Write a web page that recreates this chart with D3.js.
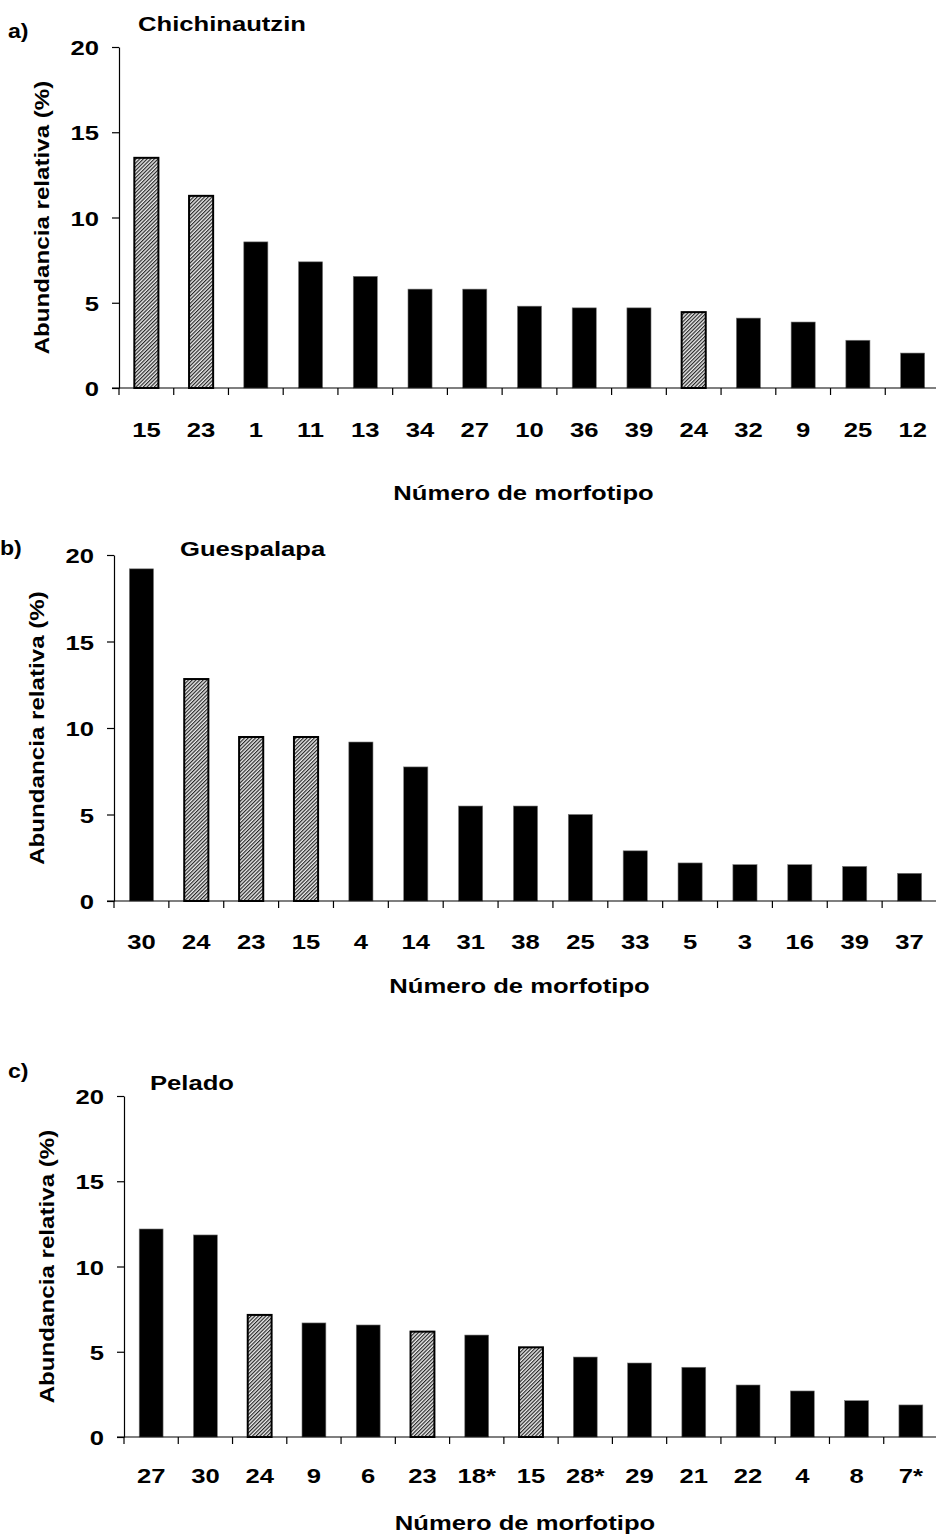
<!DOCTYPE html>
<html>
<head>
<meta charset="utf-8">
<script src="https://cdn.jsdelivr.net/npm/d3@7"></script>
<style>
  html, body { margin: 0; padding: 0; background: #fff; }
  svg text { font-family: "Liberation Sans", Arial, sans-serif; font-weight: bold; fill: #000; }
</style>
</head>
<body>
<svg id="chart" width="936" height="1537"></svg>
<script>
// Relative abundance (%) of morphotypes at each site
const chichiCats    = ["15", "23", "1", "11", "13", "34", "27", "10", "36", "39", "24", "32", "9", "25", "12"];
const chichiValues  = [13.5, 11.27, 8.57, 7.4, 6.55, 5.8, 5.8, 4.8, 4.7, 4.7, 4.45, 4.1, 3.87, 2.8, 2.05];
const chichiHatched = ["15", "23", "24"];

const guesCats    = ["30", "24", "23", "15", "4", "14", "31", "38", "25", "33", "5", "3", "16", "39", "37"];
const guesValues  = [19.2, 12.83, 9.48, 9.48, 9.19, 7.75, 5.49, 5.49, 5.0, 2.9, 2.2, 2.1, 2.1, 2.0, 1.6];
const guesHatched = ["24", "23", "15"];

const peladoCats    = ["27", "30", "24", "9", "6", "23", "18*", "15", "28*", "29", "21", "22", "4", "8", "7*"];
const peladoValues  = [12.2, 11.85, 7.16, 6.69, 6.57, 6.18, 5.98, 5.26, 4.69, 4.34, 4.09, 3.05, 2.7, 2.13, 1.88];
const peladoHatched = ["24", "23", "15"];

const yTicks = [0, 5, 10, 15, 20];
const yTitle = "Abundancia relativa (%)";
const xTitle = "Número de morfotipo";

const svg = d3.select("#chart");

// Widen glyphs horizontally along the text direction
function stretch(sel, k) {
  sel.each(function () {
    const len = this.getComputedTextLength();
    d3.select(this).attr("textLength", len * k).attr("lengthAdjust", "spacingAndGlyphs");
  });
}

// Fine diagonal hatching used for the shaded bars
const defs = svg.append("defs");
const pat = defs.append("pattern")
  .attr("id", "hatch")
  .attr("patternUnits", "userSpaceOnUse")
  .attr("width", 2.6).attr("height", 2.6)
  .attr("patternTransform", "rotate(45)");
pat.append("rect").attr("width", 2.6).attr("height", 2.6).attr("fill", "#ececec");
pat.append("line").attr("x1", 0.6).attr("y1", 0).attr("x2", 0.6).attr("y2", 2.6)
  .attr("stroke", "#1a1a1a").attr("stroke-width", 1.1);

const panels = [
  { tag: "a)", title: "Chichinautzin", cats: chichiCats, values: chichiValues, hatched: chichiHatched,
    x0: 119, x1: 940, yTop: 47, yBottom: 388, tagX: 8, tagY: 30, titleX: 138, titleY: 23,
    labelOff: 41, xTitleY: 492 },
  { tag: "b)", title: "Guespalapa", cats: guesCats, values: guesValues, hatched: guesHatched,
    x0: 114, x1: 937, yTop: 555, yBottom: 901, tagX: 0, tagY: 547, titleX: 180, titleY: 548,
    labelOff: 40, xTitleY: 985 },
  { tag: "c)", title: "Pelado", cats: peladoCats, values: peladoValues, hatched: peladoHatched,
    x0: 124, x1: 938, yTop: 1096, yBottom: 1437, tagX: 8, tagY: 1070, titleX: 150, titleY: 1082,
    labelOff: 38, xTitleY: 1522 }
];

const FS = "21px";
const K = 1.22;

panels.forEach(p => {
  const g = svg.append("g");

  const x = d3.scaleBand().domain(p.cats).range([p.x0, p.x1])
    .paddingInner(0.56).paddingOuter(0.28);
  const y = d3.scaleLinear().domain([0, 20]).range([p.yBottom, p.yTop]);

  // bars
  g.selectAll("rect.bar").data(p.cats.map((c, i) => ({ c, v: p.values[i] })))
    .join("rect")
    .attr("class", "bar")
    .attr("x", d => x(d.c))
    .attr("width", x.bandwidth())
    .attr("y", d => y(d.v))
    .attr("height", d => y(0) - y(d.v))
    .attr("fill", d => p.hatched.includes(d.c) ? "url(#hatch)" : "#000")
    .attr("stroke", d => p.hatched.includes(d.c) ? "#000" : "#777")
    .attr("stroke-width", d => p.hatched.includes(d.c) ? 2 : 0.6);

  // y axis
  const yAxis = g.append("g")
    .attr("transform", `translate(${p.x0},0)`)
    .call(d3.axisLeft(y).tickValues(yTicks).tickSize(7).tickSizeOuter(0).tickPadding(13));
  yAxis.select(".domain").attr("stroke", "#000").attr("stroke-width", 1.2);
  yAxis.selectAll(".tick line").attr("stroke", "#000").attr("stroke-width", 1.2);
  yAxis.selectAll(".tick text")
    .style("font-size", FS)
    .attr("dy", "0.36em")
    .call(stretch, K);

  // x axis baseline and category boundary ticks
  const step = x.step();
  g.append("line")
    .attr("x1", p.x0 - 7).attr("x2", p.x1 + 10)
    .attr("y1", y(0)).attr("y2", y(0))
    .attr("stroke", "#000").attr("stroke-width", 1.2);
  const bounds = d3.range(p.cats.length + 1).map(i => p.x0 + i * step);
  g.selectAll("line.xtick").data(bounds).join("line")
    .attr("class", "xtick")
    .attr("x1", d => d).attr("x2", d => d)
    .attr("y1", y(0)).attr("y2", y(0) + 7)
    .attr("stroke", "#000").attr("stroke-width", 1.2);

  const xAxis = g.append("g")
    .attr("transform", `translate(0,${y(0)})`)
    .call(d3.axisBottom(x).tickSize(0).tickPadding(p.labelOff));
  xAxis.select(".domain").remove();
  xAxis.selectAll(".tick text")
    .style("font-size", FS)
    .attr("dy", "0.36em")
    .call(stretch, K);

  // titles
  g.append("text")
    .attr("x", (p.x0 + p.x1) / 2 - 6).attr("y", p.xTitleY)
    .attr("text-anchor", "middle").attr("dy", "0.36em")
    .style("font-size", FS)
    .text(xTitle)
    .call(stretch, K);

  g.append("text")
    .attr("transform", `translate(${p.x0 - 78},${(p.yTop + p.yBottom) / 2}) rotate(-90)`)
    .attr("text-anchor", "middle").attr("dy", "0.36em")
    .style("font-size", FS)
    .text(yTitle)
    .call(stretch, 1.15);

  g.append("text")
    .attr("x", p.titleX).attr("y", p.titleY).attr("dy", "0.36em")
    .style("font-size", FS)
    .text(p.title)
    .call(stretch, K);

  g.append("text")
    .attr("x", p.tagX).attr("y", p.tagY).attr("dy", "0.36em")
    .style("font-size", FS)
    .text(p.tag)
    .call(stretch, 1.1);
});
</script>
</body>
</html>
